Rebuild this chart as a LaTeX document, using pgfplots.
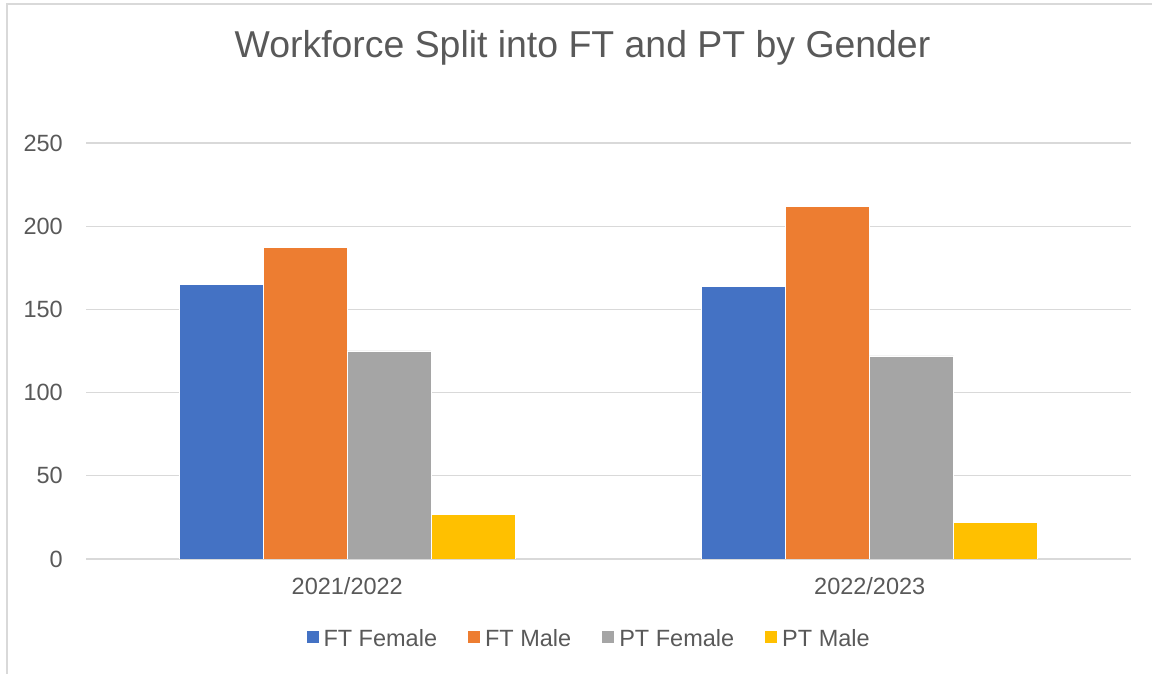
\documentclass[border=0pt]{standalone}
\usepackage{pgfplots}
\pgfplotsset{compat=1.18}
\usepackage{fontspec}
\setmainfont{Liberation Sans}
\definecolor{cblue}{HTML}{4472C4}
\definecolor{corange}{HTML}{ED7D31}
\definecolor{cgray}{HTML}{A5A5A5}
\definecolor{cyellow}{HTML}{FFC000}
\definecolor{textc}{HTML}{595959}
\definecolor{gridc}{HTML}{D9D9D9}
\begin{document}
\begin{tikzpicture}[x=1pt,y=1pt]
\useasboundingbox (0,0) rectangle (1152,674);
\draw[gridc, line width=1.3pt] (7,0) -- (7,670) -- (1152,670);
\node[anchor=base, text=textc, font=\fontsize{37.4}{45}\selectfont, inner sep=0pt] at (582.5,616) {Workforce Split into FT and PT by Gender};
\begin{axis}[
  at={(86pt,115pt)}, anchor=south west,
  scale only axis, width=1045pt, height=416pt,
  ybar=0pt, bar width=84pt,
  xmin=-0.5, xmax=1.5, ymin=0, ymax=250,
  xtick={0,1}, xticklabels={2021/2022,2022/2023},
  ytick={0,50,100,150,200,250},
  major tick length=0pt, tick style={draw=none},
  axis line style={draw=none},
  ymajorgrids, grid style={draw=gridc, line width=1.3pt},
  /pgf/number format/assume math mode=true,
  ticklabel style={font=\fontsize{23.5}{28}\selectfont, text=textc, inner sep=0pt},
  yticklabel style={anchor=east, xshift=-23pt},
  xticklabel style={anchor=north, yshift=-18pt},
  legend columns=4,
  legend style={at={(0.4805,-0.191)}, anchor=center, draw=none, fill=none,
    inner sep=0pt, outer sep=0pt,
    font=\fontsize{23.5}{28}\selectfont, text=textc,
    nodes={inner sep=0pt},
    /tikz/every odd column/.style={column sep=5pt},
    /tikz/every even column/.style={column sep=31pt}},
  legend image code/.code={\path[#1,draw=none] (0pt,-4.5pt) rectangle (12pt,7.5pt);},
  every axis plot/.append style={draw=white, line width=0.8pt},
]
\addplot[fill=cblue] coordinates {(0,165) (1,164)};
\addplot[fill=corange] coordinates {(0,187) (1,212)};
\addplot[fill=cgray] coordinates {(0,125) (1,122)};
\addplot[fill=cyellow] coordinates {(0,27) (1,22)};
\legend{FT Female, FT Male, PT Female, PT Male}
\end{axis}
\end{tikzpicture}
\end{document}
